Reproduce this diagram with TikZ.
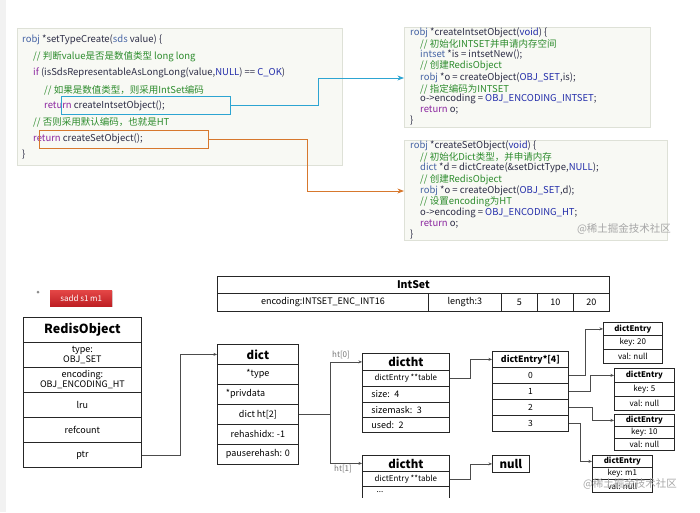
\documentclass[tikz,border=0pt]{standalone}
\usepackage{fontspec}
\setmainfont{Noto Sans CJK SC}
\usepackage{tikz}
\usetikzlibrary{arrows.meta,calc,positioning,shadows}
\definecolor{codebg}{RGB}{248,249,244}
\definecolor{codeline}{RGB}{222,225,215}
\definecolor{codetext}{RGB}{45,45,70}
\definecolor{codetype}{RGB}{70,100,165}
\definecolor{codekw}{RGB}{140,40,160}
\definecolor{codeconst}{RGB}{35,45,170}
\definecolor{codecomm}{RGB}{45,140,45}
\definecolor{markblue}{RGB}{45,165,210}
\definecolor{markorange}{RGB}{215,120,45}
\definecolor{cmdtop}{RGB}{228,70,70}
\definecolor{cmdbottom}{RGB}{190,30,35}
\newcommand{\kwd}[1]{\textcolor{codekw}{#1}}
\newcommand{\typ}[1]{\textcolor{codetype}{#1}}
\newcommand{\cst}[1]{\textcolor{codeconst}{#1}}
\newcommand{\cmt}[1]{\textcolor{codecomm}{#1}}

\begin{document}
\begin{tikzpicture}[x=1pt,y=1pt,>=Stealth,
  code/.style={anchor=west,inner sep=0pt,text=codetext,font=\fontsize{9.5}{10}\selectfont},
  codebox/.style={anchor=north west,fill=codebg,draw=codeline,line width=0.4pt,inner sep=0pt},
  hilite/.style={anchor=north west,draw=#1,line width=1.1pt,inner sep=0pt},
  cell/.style={anchor=north west,draw=black!85,line width=0.8pt,inner sep=0pt,font=\fontsize{9}{10}\selectfont},
  small/.style={font=\fontsize{#1}{#1}\selectfont},
  head/.style={cell,font=\bfseries\fontsize{#1}{#1}\selectfont},
  link/.style={->,draw=black!70,line width=0.7pt,>={Stealth[length=3.5pt,width=3pt]}},
  tag/.style={text=black!55,font=\fontsize{8}{8}\selectfont},
  wmark/.style={text=black!35,font=\fontsize{10.5}{11}\selectfont}]
  \useasboundingbox (0,0) rectangle (700,-512);
  \fill[black!5] (0,0) rectangle (6,-512);

  % setTypeCreate
  \node[codebox,minimum width=325,minimum height=137,drop shadow={shadow xshift=0.8pt,shadow yshift=-1.2pt,fill=black!40}] (setcode) at (17,-28) {};
  \node[code] (sc1) at (22,-40) {\typ{robj} *setTypeCreate(\typ{sds} value) \{};
  \node[code] (sc2) at (33,-57) {\cmt{// 判断value是否是数值类型 long long}};
  \node[code] (sc3) at (33,-73) {\kwd{if} (isSdsRepresentableAsLongLong(value,\cst{NULL}) == \cst{C\_OK})};
  \node[code] (sc4) at (44,-90) {\cmt{// 如果是数值类型，则采用IntSet编码}};
  \node[code] (sc5) at (44,-106) {\kwd{return} createIntsetObject();};
  \node[code] (sc6) at (33,-122) {\cmt{// 否则采用默认编码，也就是HT}};
  \node[code] (sc7) at (33,-139) {\kwd{return} createSetObject();};
  \node[code] (sc8) at (22,-155) {\}};
  \node[hilite=markblue,minimum width=169,minimum height=18] (intret) at (61,-96) {};
  \node[hilite=markorange,minimum width=169,minimum height=18] (setret) at (39,-130) {};

  % createIntsetObject
  \node[codebox,minimum width=246,minimum height=100,drop shadow={shadow xshift=0.8pt,shadow yshift=-1.2pt,fill=black!40}] (intcode) at (404,-27) {};
  \node[code] (ic1) at (410,-33) {\typ{robj} *createIntsetObject(\cst{void}) \{};
  \node[code] (ic2) at (420,-44) {\cmt{// 初始化INTSET并申请内存空间}};
  \node[code] (ic3) at (420,-55) {\typ{intset} *is = intsetNew();};
  \node[code] (ic4) at (420,-66) {\cmt{// 创建RedisObject}};
  \node[code] (ic5) at (420,-78) {\typ{robj} *o = createObject(\cst{OBJ\_SET},is);};
  \node[code] (ic6) at (420,-89) {\cmt{// 指定编码为INTSET}};
  \node[code] (ic7) at (420,-99) {o->encoding = \cst{OBJ\_ENCODING\_INTSET};};
  \node[code] (ic8) at (420,-110) {\kwd{return} o;};
  \node[code] (ic9) at (410,-121) {\}};

  % createSetObject
  \node[codebox,minimum width=263,minimum height=100] (dictcode) at (404,-140) {};
  \node[code] (dc1) at (410,-146) {\typ{robj} *createSetObject(\cst{void}) \{};
  \node[code] (dc2) at (420,-157) {\cmt{// 初始化Dict类型，并申请内存}};
  \node[code] (dc3) at (420,-168) {\typ{dict} *d = dictCreate(\&setDictType,\cst{NULL});};
  \node[code] (dc4) at (420,-180) {\cmt{// 创建RedisObject}};
  \node[code] (dc5) at (420,-191) {\typ{robj} *o = createObject(\cst{OBJ\_SET},d);};
  \node[code] (dc6) at (420,-202) {\cmt{// 设置encoding为HT}};
  \node[code] (dc7) at (420,-213) {o->encoding = \cst{OBJ\_ENCODING\_HT};};
  \node[code] (dc8) at (420,-224) {\kwd{return} o;};
  \node[code] (dc9) at (410,-235) {\}};
  \node[wmark] (wm1) at (624,-229) {@稀土掘金技术社区};

  \draw[->,markblue,line width=0.8pt] (intret.east) -- ++(87,0) |- (intcode.west |- ic5);
  \draw[->,markorange,line width=0.8pt] (setret.east) -- ++(98,0) |- (dictcode.west |- dc5);

  % command
  \fill[black!45] (38,-292) circle (1.5);
  \node[anchor=north west,minimum width=62,minimum height=16,inner sep=0pt,top color=cmdtop,bottom color=cmdbottom,text=white,font=\fontsize{8}{8}\selectfont,drop shadow={shadow xshift=0.6pt,shadow yshift=-0.8pt,fill=black!30}] (cmd) at (50,-290) {sadd s1 m1};

  % RedisObject
  \node[head=12.5,minimum width=118,minimum height=25] (robj) at (23,-317) {RedisObject};
  \node[cell,minimum width=118,minimum height=25,align=center] (rtype) at (23,-342) {type:\\OBJ\_SET};
  \node[cell,minimum width=118,minimum height=25,align=center] (renc) at (23,-367) {encoding:\\OBJ\_ENCODING\_HT};
  \node[cell,minimum width=118,minimum height=25] (rlru) at (23,-392) {lru};
  \node[cell,minimum width=118,minimum height=25] (rref) at (23,-417) {refcount};
  \node[cell,minimum width=118,minimum height=25] (rptr) at (23,-442) {ptr};

  % IntSet
  \node[head=10.5,minimum width=392,minimum height=17] (iset) at (217,-276) {IntSet};
  \node[cell,minimum width=211,minimum height=18] (ienc) at (217,-293) {encoding:INTSET\_ENC\_INT16};
  \node[cell,minimum width=73,minimum height=18] (ilen) at (428,-293) {length:3};
  \node[cell,minimum width=36,minimum height=18] (ival1) at (501,-293) {5};
  \node[cell,minimum width=36,minimum height=18] (ival2) at (537,-293) {10};
  \node[cell,minimum width=36,minimum height=18] (ival3) at (573,-293) {20};

  % dict
  \node[head=11.5,minimum width=81,minimum height=20] (dhead) at (217,-344) {dict};
  \node[cell,minimum width=81,minimum height=20] (dtype) at (217,-364) {*type};
  \node[cell,minimum width=81,minimum height=20,text width=64,align=left] (dpriv) at (217,-384) {*privdata};
  \node[cell,minimum width=81,minimum height=20] (dht) at (217,-404) {dict ht[2]};
  \node[cell,minimum width=81,minimum height=20] (drehash) at (217,-424) {rehashidx: -1};
  \node[cell,minimum width=81,minimum height=20] (dpause) at (217,-444) {pauserehash: 0};

  % dictht
  \node[head=11.5,minimum width=87,minimum height=17] (tzhead) at (362,-353) {dictht};
  \node[cell,minimum width=87,minimum height=16,small=8] (tztable) at (362,-370) {dictEntry **table};
  \node[cell,minimum width=87,minimum height=15.5,text width=69,align=left] (tzsize) at (362,-386) {size: 4};
  \node[cell,minimum width=87,minimum height=15.5,text width=69,align=left] (tzmask) at (362,-401.5) {sizemask: 3};
  \node[cell,minimum width=87,minimum height=15,text width=69,align=left] (tzused) at (362,-417) {used: 2};

  \node[head=11.5,minimum width=87,minimum height=16] (tohead) at (362,-455) {dictht};
  \node[cell,minimum width=87,minimum height=15,small=8] (totable) at (362,-471) {dictEntry **table};
  \draw[black!85,line width=0.8pt] (totable.south west) -- ++(0,-11);
  \draw[black!85,line width=0.8pt] (totable.south east) -- ++(0,-11);
  \node[small=8,inner sep=0pt] (tomore) at (380,-492) {...};

  \node[head=11.5,minimum width=37,minimum height=17] (null) at (492,-455) {null};

  % table
  \node[head=8.8,minimum width=76,minimum height=16] (arr) at (492,-351) {dictEntry*[4]};
  \node[cell,minimum width=76,minimum height=16,small=8.5] (arr0) at (492,-367) {0};
  \node[cell,minimum width=76,minimum height=16,small=8.5] (arr1) at (492,-383) {1};
  \node[cell,minimum width=76,minimum height=16,small=8.5] (arr2) at (492,-399) {2};
  \node[cell,minimum width=76,minimum height=16,small=8.5] (arr3) at (492,-415) {3};

  % entries
  \node[head=7.8,minimum width=59,minimum height=13] (ea) at (603,-322) {dictEntry};
  \node[cell,minimum width=59,minimum height=14,small=8] (eakey) at (603,-335) {key: 20};
  \node[cell,minimum width=59,minimum height=14,small=8] (eaval) at (603,-349) {val: null};
  \node[head=7.8,minimum width=60,minimum height=14] (eb) at (614,-368) {dictEntry};
  \node[cell,minimum width=60,minimum height=14,small=8] (ebkey) at (614,-382) {key: 5};
  \node[cell,minimum width=60,minimum height=14,small=8] (ebval) at (614,-396) {val: null};
  \node[head=7.8,minimum width=60,minimum height=12] (ec) at (614,-414) {dictEntry};
  \node[cell,minimum width=60,minimum height=12,small=8] (eckey) at (614,-426) {key: 10};
  \node[cell,minimum width=60,minimum height=12,small=8] (ecval) at (614,-438) {val: null};
  \node[head=7.8,minimum width=60,minimum height=12] (ed) at (592,-455) {dictEntry};
  \node[cell,minimum width=60,minimum height=12,small=8] (edkey) at (592,-467) {key: m1};
  \node[cell,minimum width=60,minimum height=13,small=8] (edval) at (592,-479) {val: null};
  \node[wmark] (wm2) at (630,-484) {@稀土掘金技术社区};

  \draw[link] (rptr.east) -- ++(39,0) |- (dhead.west);
  \draw[link] (dht.east) -- ++(32,0) |- (tzhead.west);
  \draw[link] (dht.east) -- ++(32,0) |- (tohead.west);
  \draw[link] (tztable.east) -- ++(21,0) |- (arr.west);
  \draw[link] (totable.east) -- ++(21,0) |- (null.west);
  \draw[link] (arr0.east) -- ++(17,0) |- (ea.west);
  \draw[link] (arr1.east) -- ++(22,0) |- (eb.west);
  \draw[link] (arr2.east) -- ++(24,0) |- (ec.west);
  \draw[link] (arr3.east) -- ++(12,0) |- (ed.west);
  \node[tag] (htz) at (341,-355) {ht[0]};
  \node[tag] (hto) at (343,-469) {ht[1]};
\end{tikzpicture}
\end{document}
